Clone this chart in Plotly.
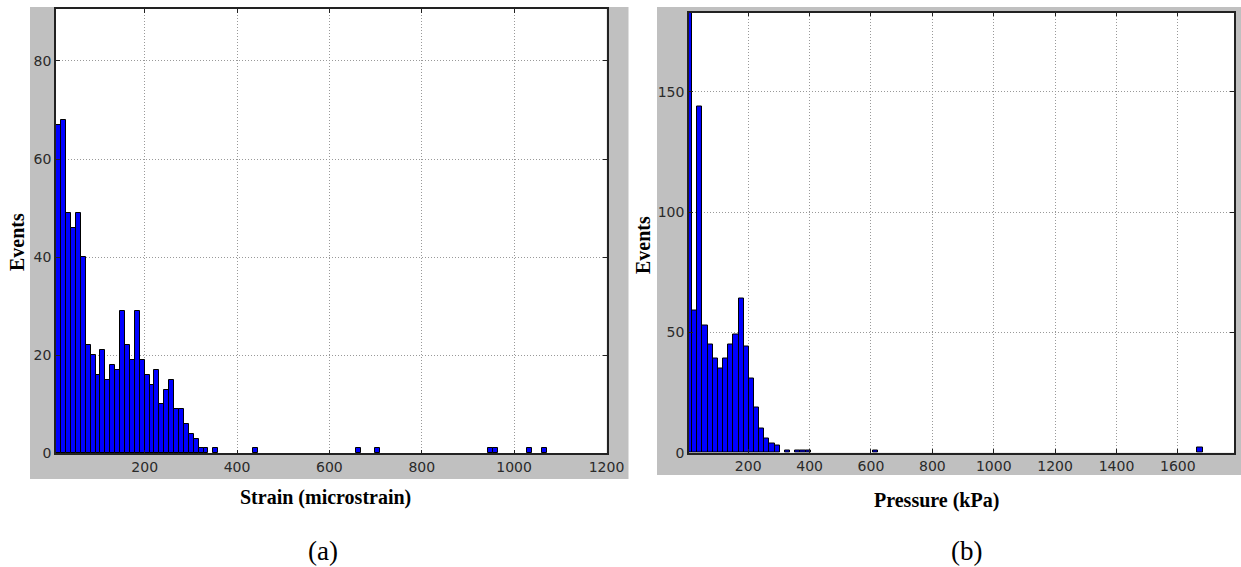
import numpy as np
import plotly.graph_objects as go

# Histogram (a): strain, 100 equal bins
strain_min = 8.5
strain_bin_width = 10.63
strain_counts = [0] * 100
strain_head = [67, 68, 49, 46, 49, 40, 22, 20, 16, 21, 15, 18, 17, 29, 22, 19,
               29, 19, 16, 14, 17, 10, 13, 15, 9, 9, 6, 4, 3, 1, 1, 0, 1]
strain_counts[:len(strain_head)] = strain_head
for b in [40, 61, 65, 88, 89, 96, 99]:
    strain_counts[b] = 1

# Histogram (b): pressure, 100 equal bins
pressure_min = 0.5
pressure_bin_width = 16.8
pressure_counts = [0] * 100
pressure_head = [230, 59, 144, 53, 45, 39, 35, 39, 45, 49, 64, 44, 31, 19, 10,
                 6, 4, 3, 0, 1, 0, 1, 1, 1]
pressure_counts[:len(pressure_head)] = pressure_head
pressure_counts[36] = 1
pressure_counts[99] = 2

strain_ticks = [200, 400, 600, 800, 1000, 1200]
strain_yticks = [0, 20, 40, 60, 80]
pressure_ticks = [200, 400, 600, 800, 1000, 1200, 1400, 1600]
pressure_yticks = [0, 50, 100, 150]

W, H = 1241, 567


def px_x(p):
    return p / W


def px_y(p):
    return 1 - p / H


def centers(vmin, width, n):
    return vmin + width * (np.arange(n) + 0.5)


def nonzero(counts):
    return [c if c > 0 else None for c in counts]


fig = go.Figure()

bar_style = dict(color="#0000ff", line=dict(color="#000000", width=1))
fig.add_trace(go.Bar(
    x=centers(strain_min, strain_bin_width, len(strain_counts)),
    y=nonzero(strain_counts), width=strain_bin_width, marker=bar_style,
    xaxis="x", yaxis="y", showlegend=False,
))
fig.add_trace(go.Bar(
    x=centers(pressure_min, pressure_bin_width, len(pressure_counts)),
    y=nonzero(pressure_counts), width=pressure_bin_width, marker=bar_style,
    xaxis="x2", yaxis="y2", showlegend=False,
))

tick_font = dict(family="DejaVu Sans", size=14, color="#2a2a2a")
axis_common = dict(
    showline=True, linecolor="#222222", linewidth=1.5, mirror="ticks",
    ticks="inside", ticklen=4, tickcolor="#222222",
    showgrid=True, gridcolor="#999999", griddash="1px,2px", gridwidth=1,
    zeroline=False, tickfont=tick_font, automargin=False,
)

fig.update_layout(
    width=W, height=H,
    margin=dict(l=0, r=0, t=0, b=0),
    paper_bgcolor="white", plot_bgcolor="white",
    bargap=0,
    xaxis=dict(domain=[px_x(56), px_x(606.7)], range=[8, 1200.5],
               tickvals=strain_ticks, anchor="y", **axis_common),
    yaxis=dict(domain=[px_y(453.3), px_y(9)], range=[0, 90.6],
               tickvals=strain_yticks, anchor="x", **axis_common),
    xaxis2=dict(domain=[px_x(689), px_x(1234)], range=[7, 1783],
                tickvals=pressure_ticks, anchor="y2", **axis_common),
    yaxis2=dict(domain=[px_y(452.7), px_y(12.5)], range=[0, 183],
                tickvals=pressure_yticks, anchor="x2", **axis_common),
)

# Grey frames behind each axes
fig.add_shape(type="rect", xref="paper", yref="paper", layer="below",
              x0=px_x(30), x1=px_x(628.5), y0=px_y(479), y1=px_y(7),
              fillcolor="#c0c0c0", line=dict(width=0))
fig.add_shape(type="rect", xref="paper", yref="paper", layer="below",
              x0=px_x(657), x1=1.0, y0=px_y(475), y1=px_y(7),
              fillcolor="#c0c0c0", line=dict(width=0))
# White plotting areas on top of the grey frames
fig.add_shape(type="rect", xref="paper", yref="paper", layer="below",
              x0=px_x(56), x1=px_x(606.7), y0=px_y(453.3), y1=px_y(9),
              fillcolor="white", line=dict(width=0))
fig.add_shape(type="rect", xref="paper", yref="paper", layer="below",
              x0=px_x(689), x1=px_x(1234), y0=px_y(452.7), y1=px_y(12.5),
              fillcolor="white", line=dict(width=0))

title_font = dict(family="Liberation Serif", size=20, color="#000000")
label_font = dict(family="Liberation Serif", size=27, color="#000000")

annotations = [
    dict(text="<b>Events</b>", x=px_x(17), y=px_y(242), textangle=-90,
         font=title_font),
    dict(text="<b>Events</b>", x=px_x(643), y=px_y(245), textangle=-90,
         font=title_font),
    dict(text="<b>Strain (microstrain)</b>", x=px_x(325), y=px_y(497),
         font=title_font),
    dict(text="<b>Pressure (kPa)</b>", x=px_x(936), y=px_y(500),
         font=title_font),
    dict(text="(a)", x=px_x(323), y=px_y(551), font=label_font),
    dict(text="(b)", x=px_x(966), y=px_y(551), font=label_font),
]
for a in annotations:
    fig.add_annotation(xref="paper", yref="paper", showarrow=False,
                       xanchor="center", yanchor="middle", **a)

fig.write_html("out.html")
